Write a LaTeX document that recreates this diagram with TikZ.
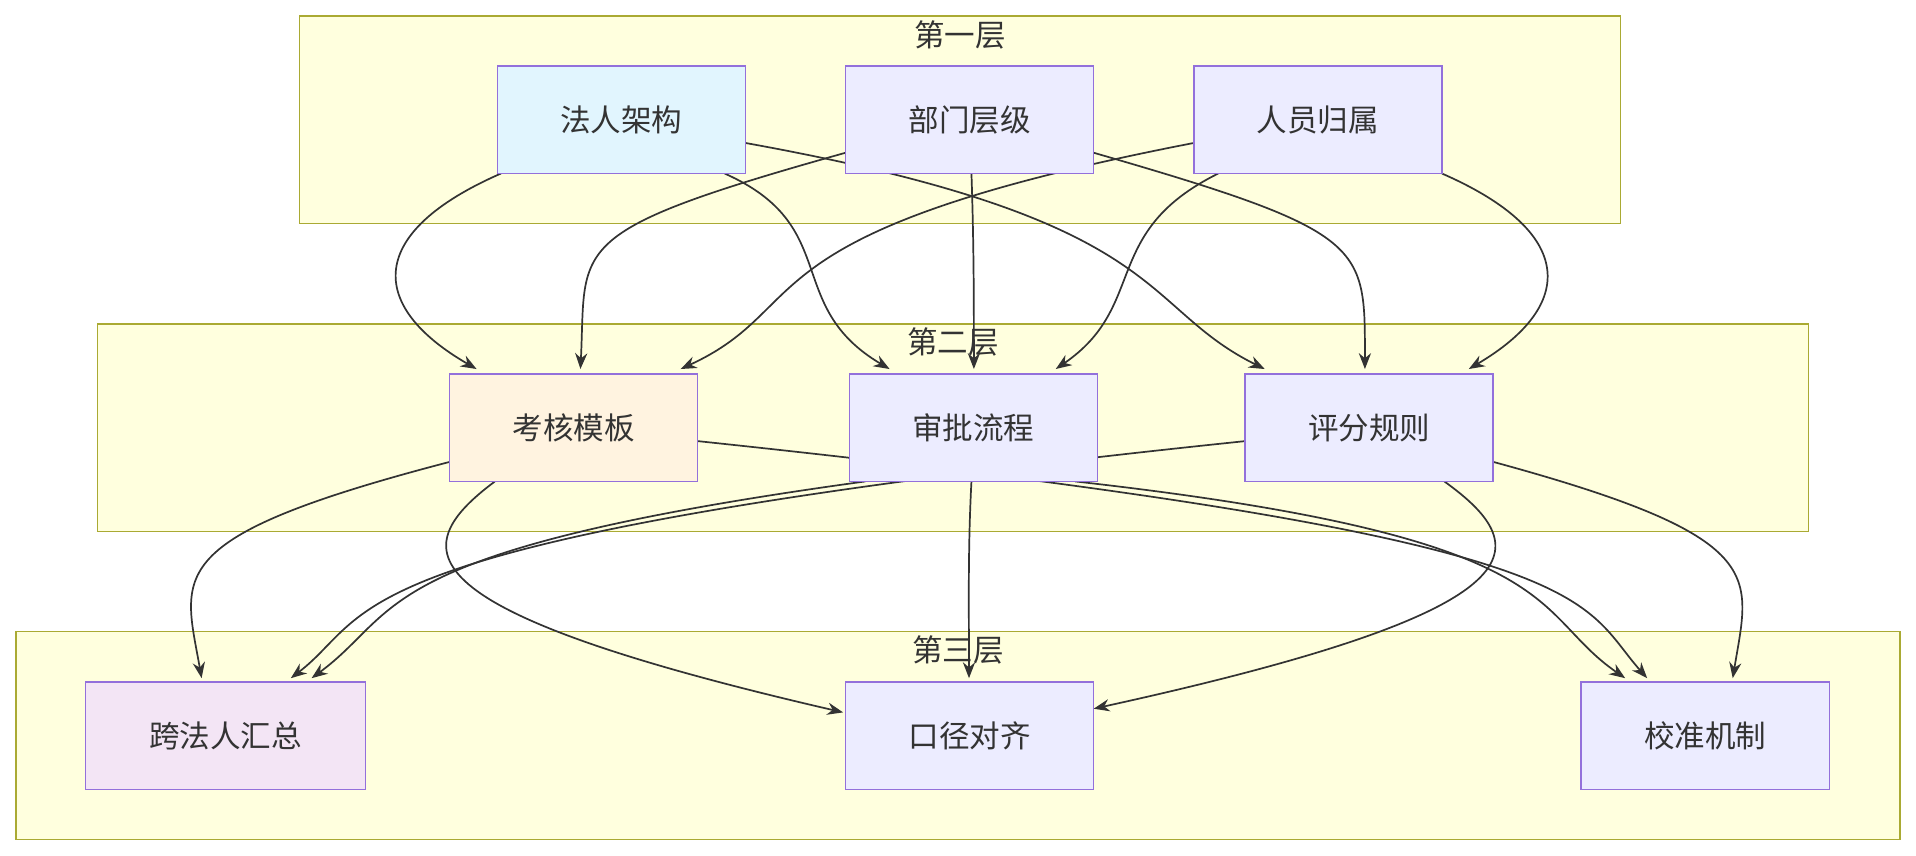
\documentclass[tikz,border=0pt]{standalone}
\usepackage{fontspec}
\setmainfont{Noto Sans CJK SC}
\usetikzlibrary{arrows.meta}
\pgfdeclarelayer{bgl}\pgfdeclarelayer{edl}
\pgfsetlayers{bgl,edl,main}
\begin{document}
\begin{tikzpicture}[x=1pt,y=-1pt,
  box/.style={draw=boxb,line width=1.2pt,minimum width=203pt,minimum height=88pt,font=\fontsize{25}{30}\selectfont,text=black!80,inner sep=0pt},
  ttl/.style={font=\fontsize{25}{30}\selectfont,text=black!80,anchor=north},
  clu/.style={fill=clf,draw=clb,line width=1.2pt},
  ar/.style={draw=black!80,line width=1.4pt,-{Stealth[length=13pt,width=10pt]}}]
\definecolor{clf}{HTML}{FFFFDE}\definecolor{clb}{HTML}{AAAA33}
\definecolor{boxb}{HTML}{9370DB}\definecolor{pur}{HTML}{ECECFF}
\definecolor{blu}{HTML}{E1F5FE}\definecolor{ora}{HTML}{FFF3E0}\definecolor{pin}{HTML}{F3E5F5}
\useasboundingbox (0,0) rectangle (1568,700);
\begin{pgfonlayer}{bgl}
\draw[clu] (245,13) rectangle (1326,183);
\draw[clu] (80,265) rectangle (1480,435);
\draw[clu] (13,517) rectangle (1555,687);
\end{pgfonlayer}
\node[ttl] (t1) at (785.5,13) {第一层};
\node[ttl] (t2) at (780,265) {第二层};
\node[ttl] (t3) at (784,517) {第三层};
\node[box,fill=blu] (a1) at (508.5,98) {法人架构};
\node[box,fill=pur] (a2) at (793.5,98) {部门层级};
\node[box,fill=pur] (a3) at (1078.5,98) {人员归属};
\node[box,fill=ora] (b1) at (469.5,350) {考核模板};
\node[box,fill=pur] (b2) at (796.5,350) {审批流程};
\node[box,fill=pur] (b3) at (1120.5,350) {评分规则};
\node[box,fill=pin,minimum width=229pt] (c1) at (184.5,602) {跨法人汇总};
\node[box,fill=pur] (c2) at (793.5,602) {口径对齐};
\node[box,fill=pur] (c3) at (1395.5,602) {校准机制};
\begin{pgfonlayer}{edl}
% layer 1 -> 2
\draw[ar] (410,142) .. controls (300,190) and (300,250) .. (390,302);
\draw[ar] (593,142) .. controls (690,185) and (640,250) .. (728,302);
\draw[ar] (610,117) .. controls (960,180) and (930,250) .. (1035,302);
\draw[ar] (692,125) .. controls (460,190) and (480,200) .. (475,302);
\draw[ar] (795,142) .. controls (797,200) and (797,250) .. (797,302);
\draw[ar] (895,125) .. controls (1120,190) and (1117,200) .. (1117,302);
\draw[ar] (977,117) .. controls (600,190) and (670,250) .. (557,302);
\draw[ar] (997,142) .. controls (900,190) and (940,250) .. (864,302);
\draw[ar] (1180,142) .. controls (1290,190) and (1290,250) .. (1202,302);
% layer 2 -> 3
\draw[ar] (368,378) .. controls (130,440) and (150,470) .. (165,555);
\draw[ar] (405,394) .. controls (330,450) and (330,500) .. (690,583);
\draw[ar] (571,361) .. controls (1320,440) and (1290,490) .. (1348,555);
\draw[ar] (1019,361) .. controls (260,440) and (310,500) .. (238,555);
\draw[ar] (708,394) .. controls (300,450) and (330,500) .. (255,555);
\draw[ar] (795,394) .. controls (792,450) and (793,500) .. (793,555);
\draw[ar] (880,394) .. controls (1290,440) and (1250,500) .. (1330,555);
\draw[ar] (1182,394) .. controls (1260,450) and (1260,500) .. (895,580);
\draw[ar] (1222,378) .. controls (1450,440) and (1432,470) .. (1418,555);
\end{pgfonlayer}
\end{tikzpicture}
\end{document}
